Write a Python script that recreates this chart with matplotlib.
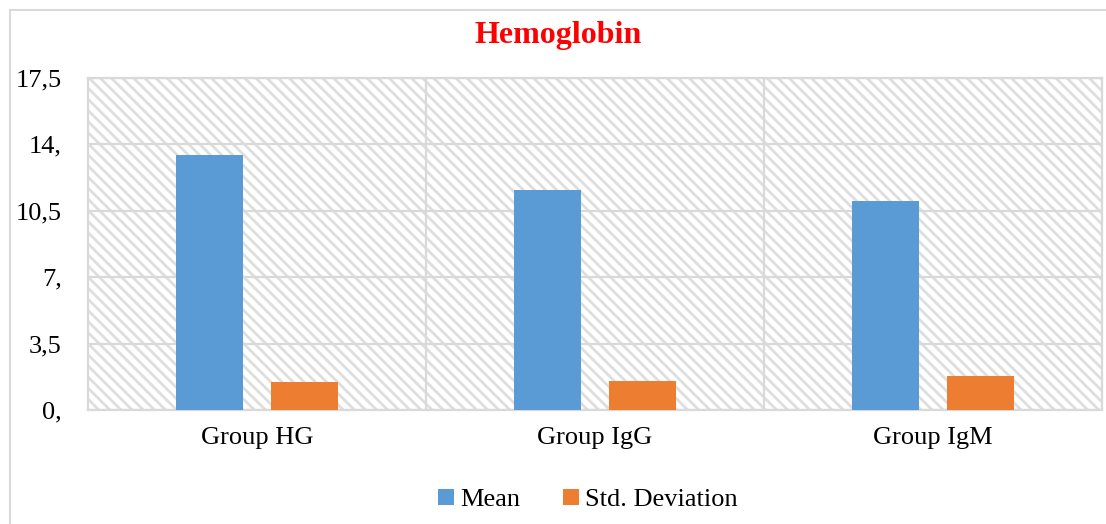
import matplotlib
matplotlib.use("Agg")
import matplotlib.pyplot as plt
import numpy as np
from matplotlib.patches import Rectangle

plt.rcParams['font.family'] = ['Liberation Serif', 'DejaVu Serif']
plt.rcParams['hatch.color'] = '#dedede'
plt.rcParams['hatch.linewidth'] = 2.0

categories = ["Group HG", "Group IgG", "Group IgM"]
mean_vals = [13.45, 11.6, 11.0]
std_vals = [1.48, 1.52, 1.79]
yticks = [0, 3.5, 7, 10.5, 14, 17.5]
ytick_labels = ["0,", "3,5", "7,", "10,5", "14,", "17,5"]
series_names = ["Mean", "Std. Deviation"]
colors = ["#5b9bd5", "#ed7d31"]

fig = plt.figure(figsize=(11.06, 5.24), dpi=100)
ax = fig.add_axes([88/1106, 1-410/524, (1102-88)/1106, (410-78)/524])

# outer chart border
fig.patches.append(Rectangle((10/1106, -0.05), 1.2, 1-10/524+0.05, transform=fig.transFigure,
                             fill=False, edgecolor='#d9d9d9', linewidth=1.5, zorder=0))

ax.set_facecolor('white')
bg = Rectangle((0, 0), 1, 1, transform=ax.transAxes, facecolor='white', hatch='\\\\\\',
               edgecolor='#dedede', linewidth=0, zorder=0)
ax.add_patch(bg)

x = np.arange(len(categories))
w = 0.198
off = 0.14
ax.bar(x - off, mean_vals, w, color=colors[0], label=series_names[0], zorder=3)
ax.bar(x + off, std_vals, w, color=colors[1], label=series_names[1], zorder=3)

ax.set_xlim(-0.5, 2.5)
ax.set_ylim(0, 17.5)
ax.set_yticks(yticks)
ax.set_yticklabels(ytick_labels, fontsize=19)
ax.set_xticks(x)
ax.set_xticklabels(categories, fontsize=19)
ax.tick_params(length=0)
ax.tick_params(axis='y', pad=19)
ax.tick_params(axis='x', pad=12)

for yv in yticks:
    ax.axhline(yv, color='#d9d9d9', linewidth=1.6, zorder=1)
for xv in [0.5, 1.5]:
    ax.axvline(xv, color='#d9d9d9', linewidth=1.6, zorder=1)
for s in ['left', 'right', 'top', 'bottom']:
    ax.spines[s].set_color('#d9d9d9')
    ax.spines[s].set_linewidth(1.6)

fig.text(558/1106, 1-36/524, "Hemoglobin", color='#ff0000', fontsize=23, fontweight='bold',
         ha='center', va='center')

leg = fig.legend(loc='center', bbox_to_anchor=(588/1106, 1-500/524), ncol=2, frameon=False,
                 fontsize=19, handlelength=0.6, handleheight=0.6, handletextpad=0.25,
                 columnspacing=1.6)

fig.savefig("out.png", dpi=100)
